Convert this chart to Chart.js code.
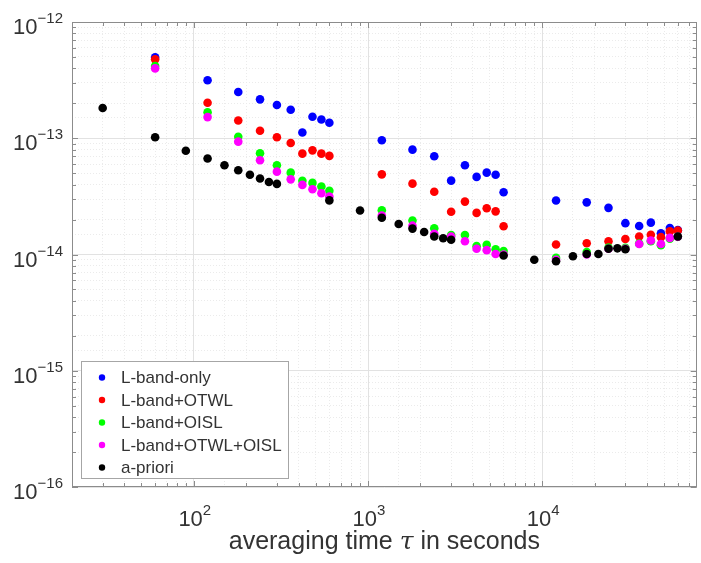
<!DOCTYPE html>
<html>
<head>
<meta charset="utf-8">
<script src="https://cdn.jsdelivr.net/npm/chart.js@4/dist/chart.umd.min.js"></script>
<style>
  html, body { margin: 0; padding: 0; background: #fff; }
  #wrap { width: 701px; height: 563px; }
</style>
</head>
<body>
<div id="wrap"><canvas id="adev" width="701" height="563"></canvas></div>
<script>
// averaging times (s)
const TAU_APRIORI = [30, 60, 90, 120, 150, 180, 210, 240, 270, 300, 600, 900, 1200, 1500, 1800, 2100, 2400, 2700, 3000,
    6000, 9000, 12000, 15000, 18000, 21000, 24000, 27000, 30000, 60000];
const TAU_LINKS = [60, 120, 180, 240, 300, 360, 420, 480, 540, 600, 1200, 1800, 2400, 3000, 3600, 4200, 4800, 5400, 6000,
    12000, 18000, 24000, 30000, 36000, 42000, 48000, 54000, 60000];

// Allan deviation values
const LBAND_ONLY = [4.96e-13, 3.15e-13, 2.5e-13, 2.16e-13, 1.93e-13, 1.76e-13, 1.12e-13, 1.53e-13, 1.45e-13, 1.36e-13,
    9.6e-14, 7.98e-14, 7.0e-14, 4.32e-14, 5.85e-14, 4.65e-14, 5.06e-14, 4.86e-14, 3.43e-14,
    2.91e-14, 2.81e-14, 2.52e-14, 1.86e-14, 1.76e-14, 1.88e-14, 1.52e-14, 1.69e-14, 1.62e-14];
const LBAND_OTWL = [4.77e-13, 2.02e-13, 1.42e-13, 1.16e-13, 1.02e-13, 9.1e-14, 7.37e-14, 7.87e-14, 7.37e-14, 7.05e-14,
    4.89e-14, 4.07e-14, 3.47e-14, 2.33e-14, 2.85e-14, 2.28e-14, 2.5e-14, 2.35e-14, 1.75e-14,
    1.22e-14, 1.25e-14, 1.3e-14, 1.36e-14, 1.43e-14, 1.48e-14, 1.41e-14, 1.58e-14, 1.61e-14];
const LBAND_OISL = [4.18e-13, 1.67e-13, 1.03e-13, 7.42e-14, 5.85e-14, 5.06e-14, 4.3e-14, 4.13e-14, 3.84e-14, 3.54e-14,
    2.4e-14, 1.96e-14, 1.68e-14, 1.47e-14, 1.47e-14, 1.18e-14, 1.21e-14, 1.11e-14, 1.07e-14,
    9.35e-15, 1.05e-14, 1.15e-14, 1.14e-14, 1.24e-14, 1.3e-14, 1.2e-14, 1.37e-14, 1.42e-14];
const LBAND_OTWL_OISL = [3.99e-13, 1.52e-13, 9.35e-14, 6.46e-14, 5.16e-14, 4.43e-14, 3.97e-14, 3.64e-14, 3.36e-14, 3.15e-14,
    2.16e-14, 1.77e-14, 1.51e-14, 1.43e-14, 1.3e-14, 1.12e-14, 1.09e-14, 1.01e-14, 1.0e-14,
    9.0e-15, 1.0e-14, 1.12e-14, 1.12e-14, 1.23e-14, 1.32e-14, 1.23e-14, 1.39e-14, 1.42e-14];
const A_PRIORI = [1.82e-13, 1.02e-13, 7.8e-14, 6.7e-14, 5.85e-14, 5.3e-14, 4.86e-14, 4.5e-14, 4.2e-14, 4.05e-14,
    2.92e-14, 2.39e-14, 2.07e-14, 1.83e-14, 1.67e-14, 1.56e-14, 1.43e-14, 1.38e-14, 1.34e-14,
    9.8e-15, 9.0e-15, 8.75e-15, 9.65e-15, 1.01e-14, 1.01e-14, 1.12e-14, 1.13e-14, 1.11e-14, 1.43e-14];

const SERIES = [
    { label: 'L-band-only', tau: TAU_LINKS, vals: LBAND_ONLY, color: '#0000ff' },
    { label: 'L-band+OTWL', tau: TAU_LINKS, vals: LBAND_OTWL, color: '#ff0000' },
    { label: 'L-band+OISL', tau: TAU_LINKS, vals: LBAND_OISL, color: '#00ff00' },
    { label: 'L-band+OTWL+OISL', tau: TAU_LINKS, vals: LBAND_OTWL_OISL, color: '#ff00ff' },
    { label: 'a-priori', tau: TAU_APRIORI, vals: A_PRIORI, color: '#000000' },
];

const FONT = '"Liberation Sans", Arial, sans-serif';
const TXT = '#333333';
const AXIS = '#8c8c8c';

const isDecade = v => Math.abs(Math.log10(v) - Math.round(Math.log10(v))) < 1e-6;
const isRealTick = v => {
    const m = v / Math.pow(10, Math.floor(Math.log10(v) + 1e-9));
    return Math.abs(m - Math.round(m)) < 1e-6;
};
const expText = v => String(Math.round(Math.log10(v))).replace('-', '\u2212');

// matlab-ish box, inward ticks, 10^n labels, axis title, legend
const axesDecor = {
    id: 'axesDecor',
    afterDraw(chart) {
        const { ctx, chartArea: a, scales: { x, y } } = chart;
        ctx.save();

        ctx.strokeStyle = AXIS;
        ctx.lineWidth = 1;
        ctx.beginPath();
        x.ticks.forEach(t => {
            if (!isRealTick(t.value)) return;
            const px = Math.round(x.getPixelForValue(t.value)) + 0.5;
            const len = isDecade(t.value) ? 6 : 4;
            ctx.moveTo(px, a.bottom); ctx.lineTo(px, a.bottom - len);
            ctx.moveTo(px, a.top); ctx.lineTo(px, a.top + len);
        });
        y.ticks.forEach(t => {
            if (!isRealTick(t.value)) return;
            const py = Math.round(y.getPixelForValue(t.value)) + 0.5;
            const len = isDecade(t.value) ? 6 : 4;
            ctx.moveTo(a.left, py); ctx.lineTo(a.left + len, py);
            ctx.moveTo(a.right, py); ctx.lineTo(a.right - len, py);
        });
        ctx.stroke();
        ctx.strokeRect(Math.round(a.left) + 0.5, Math.round(a.top) + 0.5,
            Math.round(a.width) - 1, Math.round(a.height) - 1);

        const baseFont = '22px ' + FONT;
        const expFont = '15px ' + FONT;
        ctx.fillStyle = TXT;
        ctx.textBaseline = 'alphabetic';
        ctx.textAlign = 'left';

        y.ticks.forEach(t => {
            if (!isDecade(t.value)) return;
            const py = y.getPixelForValue(t.value);
            const ex = expText(t.value);
            ctx.font = expFont;
            const ew = ctx.measureText(ex).width;
            ctx.font = baseFont;
            const bw = ctx.measureText('10').width;
            const right = a.left - 9;
            ctx.fillText('10', right - ew - bw, py + 12);
            ctx.font = expFont;
            ctx.fillText(ex, right - ew, py + 1);
        });

        x.ticks.forEach(t => {
            if (!isDecade(t.value)) return;
            const px = x.getPixelForValue(t.value);
            const ex = expText(t.value);
            ctx.font = expFont;
            const ew = ctx.measureText(ex).width;
            ctx.font = baseFont;
            const bw = ctx.measureText('10').width;
            const start = px - (bw + ew) / 2 + 1;
            ctx.fillText('10', start, a.bottom + 39);
            ctx.font = expFont;
            ctx.fillText(ex, start + bw, a.bottom + 28);
        });

        // x axis title with italic tau
        const tFont = '25px ' + FONT;
        const tauFont = 'italic 25px "DejaVu Serif", serif';
        const p1 = 'averaging time ', p3 = ' in seconds';
        ctx.font = tFont;
        const w1 = ctx.measureText(p1).width, w3 = ctx.measureText(p3).width;
        ctx.font = tauFont;
        const w2 = ctx.measureText('τ').width;
        let tx = (a.left + a.right) / 2 - (w1 + w2 + w3) / 2;
        const ty = a.bottom + 62;
        ctx.font = tFont; ctx.fillText(p1, tx, ty); tx += w1;
        ctx.font = tauFont; ctx.fillText('τ', tx, ty); tx += w2;
        ctx.font = tFont; ctx.fillText(p3, tx, ty);

        // legend box, lower left inside the axes
        const lx = 81.5, ly = 361.5, lw = 207, lh = 117;
        ctx.fillStyle = '#ffffff';
        ctx.fillRect(lx, ly, lw, lh);
        ctx.strokeStyle = '#a6a6a6';
        ctx.strokeRect(lx, ly, lw, lh);
        ctx.font = '17px ' + FONT;
        ctx.textBaseline = 'middle';
        SERIES.forEach((s, i) => {
            const cy = 377.5 + i * 22.5;
            ctx.fillStyle = s.color;
            ctx.beginPath();
            ctx.arc(102, cy, 3.2, 0, Math.PI * 2);
            ctx.fill();
            ctx.fillStyle = TXT;
            ctx.fillText(s.label, 121, cy + 1);
        });

        ctx.restore();
    },
};

const gridColor = c => isDecade(c.tick.value) ? '#e2e2e2' : '#ebebeb';
const gridDash = c => isDecade(c.tick.value) ? [] : [1, 2];

new Chart(document.getElementById('adev'), {
    type: 'scatter',
    data: {
        datasets: SERIES.map((s, i) => ({
            label: s.label,
            data: s.tau.map((t, k) => ({ x: t, y: s.vals[k] })),
            backgroundColor: s.color,
            borderWidth: 0,
            pointRadius: 4.3,
            order: SERIES.length - i,
        })),
    },
    options: {
        responsive: false,
        animation: false,
        layout: { padding: { top: 22, right: 2, left: 0, bottom: 0 } },
        plugins: { legend: { display: false }, tooltip: { enabled: false } },
        scales: {
            x: {
                type: 'logarithmic',
                min: 20,
                max: 77000,
                ticks: { display: false },
                grid: { color: gridColor, drawTicks: false, lineWidth: 1 },
                border: { display: false, dash: gridDash },
                afterFit: s => { s.height = 76; },
            },
            y: {
                type: 'logarithmic',
                min: 1e-16,
                max: 1e-12,
                ticks: { display: false },
                grid: { color: gridColor, drawTicks: false, lineWidth: 1 },
                border: { display: false, dash: gridDash },
                afterFit: s => { s.width = 72; },
            },
        },
    },
    plugins: [axesDecor],
});
</script>
</body>
</html>
